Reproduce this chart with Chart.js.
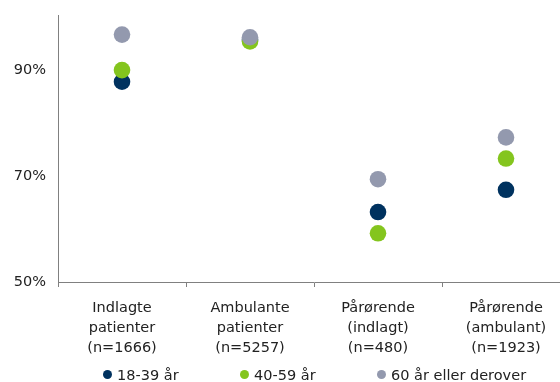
<!DOCTYPE html>
<html><head><meta charset="utf-8">
<script src="https://cdn.jsdelivr.net/npm/chart.js@4/dist/chart.umd.min.js"></script>
<style>
html,body{margin:0;padding:0;overflow:hidden;background:#fff;width:560px;height:382px;}
#wrap{position:relative;width:570px;height:382px;}
#c{display:block;width:570px;height:382px;}
#legend{position:absolute;left:0;top:366px;width:560px;height:16px;font:14.5px "DejaVu Sans",sans-serif;color:#222;}
#legend span.item{position:absolute;top:0;white-space:nowrap;line-height:18px;}
#legend span.dot{display:inline-block;width:9px;height:9px;border-radius:50%;margin-right:5px;vertical-align:1px;}
</style></head>
<body>
<div id="wrap"><canvas id="c" width="570" height="382"></canvas><div id="legend"></div></div>
<script>
const categories = [["Indlagte","patienter","(n=1666)"],["Ambulante","patienter","(n=5257)"],["Pårørende","(indlagt)","(n=480)"],["Pårørende","(ambulant)","(n=1923)"]];
const seriesNames = ["18-39 år","40-59 år","60 år eller derover"];
const age18_39 = [87.8, 95.7, 63.2, 67.4];
const age40_59 = [90.0, 95.4, 59.2, 73.3];
const age60plus = [96.7, 96.2, 69.4, 77.3];
const yTicks = [50, 70, 90];

const colors = ["#00325F", "#84C51E", "#9399AE"];
const seriesData = [age18_39, age40_59, age60plus];

const datasets = seriesNames.map((n, i) => ({
  label: n,
  data: seriesData[i],
  order: seriesNames.length - i,
  showLine: false,
  backgroundColor: colors[i],
  borderColor: colors[i],
  borderWidth: 0,
  pointRadius: 8.3,
  pointHoverRadius: 8.3
}));

new Chart(document.getElementById('c'), {
  type: 'line',
  data: { labels: categories, datasets },
  options: {
    responsive: false,
    maintainAspectRatio: false,
    animation: false,
    events: [],
    layout: { autoPadding: false, padding: { top: 15, left: 0, right: 0, bottom: 0 } },
    plugins: { legend: { display: false }, tooltip: { enabled: false } },
    scales: {
      x: {
        offset: true,
        grid: { display: true, drawOnChartArea: false, drawTicks: true, tickLength: 5, color: '#808080', offset: true },
        border: { display: true, color: '#808080', width: 1 },
        ticks: { color: '#222', font: { family: 'DejaVu Sans', size: 14.5, lineHeight: 1.38 }, padding: 11, maxRotation: 0, autoSkip: false },
        afterFit: s => { s.height = 100; s.paddingLeft = 0; s.paddingRight = 0; }
      },
      y: {
        min: 50, max: 100.4,
        grid: { display: false, drawTicks: false },
        border: { display: true, color: '#808080', width: 1 },
        afterBuildTicks: s => { s.ticks = yTicks.map(v => ({ value: v })); },
        ticks: { color: '#222', font: { family: 'DejaVu Sans', size: 14.5 }, padding: 12, callback: v => v + '%' },
        afterFit: s => { s.width = 58; s.paddingTop = 0; s.paddingBottom = 0; }
      }
    }
  }
});

const lg = document.getElementById('legend');
const lefts = [103, 240, 377];
seriesNames.forEach((n, i) => {
  const it = document.createElement('span');
  it.className = 'item';
  it.style.left = lefts[i] + 'px';
  it.innerHTML = '<span class="dot" style="background:' + colors[i] + '"></span>' + n;
  lg.appendChild(it);
});
</script>
</body></html>
